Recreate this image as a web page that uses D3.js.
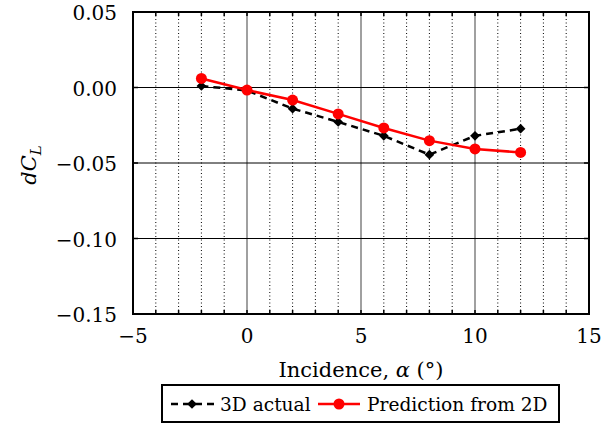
<!DOCTYPE html>
<html><head><meta charset="utf-8">
<script src="https://cdn.jsdelivr.net/npm/d3@7"></script>
<style>body{margin:0;background:#fff}svg{display:block}</style>
</head><body>
<script>
const alpha = [-2, 0, 2, 4, 6, 8, 10, 12];
const actual3D = [0.001, -0.002, -0.014, -0.0228, -0.032, -0.0445, -0.032, -0.0273];
const pred2D = [0.006, -0.0017, -0.0083, -0.0175, -0.0268, -0.0352, -0.0407, -0.043];
const xTicks = [-5, 0, 5, 10, 15];
const yTicks = [0.05, 0, -0.05, -0.10, -0.15];
const seriesNames = ["3D actual", "Prediction from 2D"];

const FONT = "'DejaVu Serif'";
const FS = 20;
const W = 616, H = 427;
const m = {l: 133, r: 589, t: 12, b: 314};
const svg = d3.select("body").append("svg").attr("width", W).attr("height", H)
  .style("font-family", FONT);
const x = d3.scaleLinear().domain([-5, 15]).range([m.l, m.r]);
const y = d3.scaleLinear().domain([-0.15, 0.05]).range([m.b, m.t]);
const fmt = v => (v < 0 ? "\u2212" : "") + Math.abs(v).toFixed(2);

// minor dotted vertical grid
const minor = d3.range(-4, 15).filter(v => v % 5 !== 0);
svg.append("g").selectAll("line").data(minor).join("line")
  .attr("x1", d => x(d)).attr("x2", d => x(d)).attr("y1", m.t).attr("y2", m.b)
  .attr("stroke", "#000").attr("stroke-width", 1).attr("stroke-dasharray", "1,2.5");
// major vertical grid
svg.append("g").selectAll("line").data([0, 5, 10]).join("line")
  .attr("x1", d => x(d)).attr("x2", d => x(d)).attr("y1", m.t).attr("y2", m.b)
  .attr("stroke", "#808080").attr("stroke-width", 1.5);
// horizontal grid
svg.append("g").selectAll("line").data([0, -0.05, -0.10]).join("line")
  .attr("x1", m.l).attr("x2", m.r).attr("y1", d => y(d)).attr("y2", d => y(d))
  .attr("stroke", "#000").attr("stroke-width", 1);

// ticks (inside)
const xt = d3.range(-4, 15);
const tk = svg.append("g").attr("stroke", "#000").attr("stroke-width", 1.5);
xt.forEach(v => {
  tk.append("line").attr("x1", x(v)).attr("x2", x(v)).attr("y1", m.b).attr("y2", m.b - 4);
  tk.append("line").attr("x1", x(v)).attr("x2", x(v)).attr("y1", m.t).attr("y2", m.t + 4);
});
[0, -0.05, -0.10].forEach(v => {
  tk.append("line").attr("x1", m.l).attr("x2", m.l + 5).attr("y1", y(v)).attr("y2", y(v));
  tk.append("line").attr("x1", m.r).attr("x2", m.r - 5).attr("y1", y(v)).attr("y2", y(v));
});

// frame
svg.append("rect").attr("x", m.l).attr("y", m.t).attr("width", m.r - m.l).attr("height", m.b - m.t)
  .attr("fill", "none").attr("stroke", "#000").attr("stroke-width", 2);

// tick labels
svg.append("g").selectAll("text").data(xTicks).join("text")
  .attr("x", d => x(d)).attr("y", 343).attr("text-anchor", "middle").style("font-size", FS + "px")
  .text(d => (d < 0 ? "\u2212" : "") + Math.abs(d));
svg.append("g").selectAll("text").data(yTicks).join("text")
  .attr("x", 117).attr("y", d => y(d) + 8).attr("text-anchor", "end").style("font-size", FS + "px")
  .text(fmt);

// axis titles
const xl = svg.append("text").attr("x", 361).attr("y", 377).attr("text-anchor", "middle").style("font-size", "21px");
xl.append("tspan").text("Incidence, ");
xl.append("tspan").attr("font-style", "italic").text("\u03B1");
xl.append("tspan").text(" (\u00B0)");
const yl = svg.append("text").attr("transform", "translate(36,165) rotate(-90)").attr("text-anchor", "middle").style("font-size", "21px").attr("font-style", "italic");
yl.append("tspan").text("dC");
yl.append("tspan").style("font-size", "15px").attr("dy", 5).text("L");

// series
const line = d3.line().x((d, i) => x(alpha[i])).y(d => y(d));
svg.append("path").datum(actual3D).attr("d", line).attr("fill", "none")
  .attr("stroke", "#000").attr("stroke-width", 2.5).attr("stroke-dasharray", "7,5");
const diamond = d3.symbol().type(d3.symbolDiamond2).size(60);
svg.append("g").selectAll("path").data(actual3D).join("path")
  .attr("transform", (d, i) => `translate(${x(alpha[i])},${y(d)})`).attr("d", diamond).attr("fill", "#000");
svg.append("path").datum(pred2D).attr("d", line).attr("fill", "none")
  .attr("stroke", "#ff0000").attr("stroke-width", 2.5);
svg.append("g").selectAll("circle").data(pred2D).join("circle")
  .attr("cx", (d, i) => x(alpha[i])).attr("cy", d => y(d)).attr("r", 5.5).attr("fill", "#ff0000");

// legend
const LFS = "18.6px";
const lg = svg.append("g");
lg.append("rect").attr("x", 162).attr("y", 385).attr("width", 397).attr("height", 37)
  .attr("fill", "#fff").attr("stroke", "#000").attr("stroke-width", 2);
const ly = 404;
lg.append("line").attr("x1", 171).attr("x2", 214).attr("y1", ly).attr("y2", ly)
  .attr("stroke", "#000").attr("stroke-width", 2.5).attr("stroke-dasharray", "7,5");
lg.append("path").attr("transform", `translate(192,${ly})`).attr("d", diamond).attr("fill", "#000");
lg.append("text").attr("x", 220).attr("y", ly + 7).style("font-size", LFS).text(seriesNames[0]);
lg.append("line").attr("x1", 318).attr("x2", 360).attr("y1", ly).attr("y2", ly)
  .attr("stroke", "#ff0000").attr("stroke-width", 2.5);
lg.append("circle").attr("cx", 339).attr("cy", ly).attr("r", 5.5).attr("fill", "#ff0000");
lg.append("text").attr("x", 367).attr("y", ly + 7).style("font-size", LFS).text(seriesNames[1]);
</script>
</body></html>
